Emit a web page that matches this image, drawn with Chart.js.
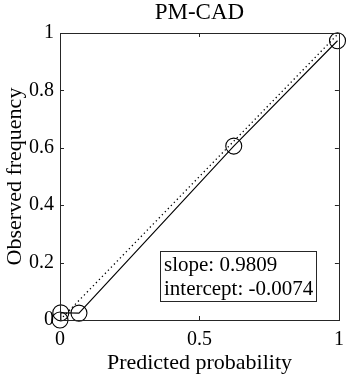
<!DOCTYPE html>
<html>
<head>
<meta charset="utf-8">
<script src="https://cdn.jsdelivr.net/npm/chart.js@4.4.1/dist/chart.umd.min.js"></script>
<style>
  html, body { margin: 0; padding: 0; background: #fff; }
  #wrap { width: 348px; height: 380px; }
</style>
</head>
<body>
<div id="wrap"><canvas id="calib" width="348" height="380"></canvas></div>
<script>
// calibration bins
const predicted = [0, 0.003, 0.068, 0.623, 0.995];
const observed = [0, 0.025, 0.024, 0.606, 0.973];
// ideal line
const idealX = [0, 1];
const idealY = [0, 1];
const xTicks = [0, 0.5, 1];
const yTicks = [0, 0.2, 0.4, 0.6, 0.8, 1];
const fitText = ["slope: 0.9809", "intercept: -0.0074"];
const titleText = "PM-CAD";

const serif = "'Liberation Serif', 'Times New Roman', serif";
const ink = "#262626";

// title over the axes, box around them, ticks pointing inwards, fit summary
const boxPlugin = {
    id: "matlabBox",
    afterDraw(chart) {
        const ctx = chart.ctx;
        const a = chart.chartArea;
        const xs = chart.scales.x, ys = chart.scales.y;
        const t = 4;
        ctx.save();

        ctx.fillStyle = "#000";
        ctx.font = "23px " + serif;
        ctx.textAlign = "center";
        ctx.textBaseline = "middle";
        ctx.fillText(titleText, (a.left + a.right) / 2, 13);

        ctx.strokeStyle = ink;
        ctx.lineWidth = 1;
        ctx.strokeRect(Math.round(a.left) + 0.5, Math.round(a.top) + 0.5,
            Math.round(a.right - a.left), Math.round(a.bottom - a.top));
        ctx.beginPath();
        xTicks.forEach(v => {
            const px = Math.round(xs.getPixelForValue(v)) + 0.5;
            ctx.moveTo(px, a.bottom); ctx.lineTo(px, a.bottom - t);
            ctx.moveTo(px, a.top); ctx.lineTo(px, a.top + t);
        });
        yTicks.forEach(v => {
            const py = Math.round(ys.getPixelForValue(v)) + 0.5;
            ctx.moveTo(a.left, py); ctx.lineTo(a.left + t, py);
            ctx.moveTo(a.right, py); ctx.lineTo(a.right - t, py);
        });
        ctx.stroke();

        // fit summary box
        const bw = 156, bh = 50;
        const bx = Math.round(a.right - 23 - bw), by = Math.round(a.bottom - 19 - bh);
        ctx.fillStyle = "#fff";
        ctx.fillRect(bx, by, bw, bh);
        ctx.strokeRect(bx + 0.5, by + 0.5, bw, bh);
        ctx.fillStyle = "#000";
        ctx.font = "21px " + serif;
        ctx.textAlign = "left";
        ctx.textBaseline = "alphabetic";
        ctx.fillText(fitText[0], bx + 4, by + 20);
        ctx.fillText(fitText[1], bx + 4, by + 44);
        ctx.restore();
    }
};

new Chart(document.getElementById("calib"), {
    type: "scatter",
    data: {
        datasets: [
            {
                data: predicted.map((x, i) => ({ x: x, y: observed[i] })),
                showLine: true,
                borderColor: "#000",
                borderWidth: 1.1,
                pointRadius: 8,
                pointBorderWidth: 1.1,
                pointBackgroundColor: "rgba(0,0,0,0)",
                pointBorderColor: "#000",
                clip: false
            },
            {
                data: idealX.map((x, i) => ({ x: x, y: idealY[i] })),
                showLine: true,
                borderColor: "#000",
                borderWidth: 1.3,
                borderDash: [1.3, 3],
                pointRadius: 0
            }
        ]
    },
    options: {
        responsive: false,
        animation: false,
        layout: { padding: { left: 0, right: 0, top: 33, bottom: 0 } },
        plugins: {
            legend: { display: false },
            tooltip: { enabled: false },
            title: { display: false }
        },
        scales: {
            x: {
                type: "linear",
                min: 0,
                max: 1,
                afterFit: s => { s.height = 60; s.paddingRight = 6; },
                afterBuildTicks: s => { s.ticks = xTicks.map(v => ({ value: v })); },
                grid: { display: false, drawTicks: false },
                border: { display: false },
                ticks: {
                    color: "#000", padding: 8, font: { family: serif, size: 20 },
                    callback: v => String(v)
                },
                title: {
                    display: true,
                    text: "Predicted probability",
                    color: "#000",
                    font: { family: serif, size: 22 },
                    padding: { top: 4, bottom: 4 }
                }
            },
            y: {
                type: "linear",
                min: 0,
                max: 1,
                afterFit: s => { s.width = 60; },
                afterBuildTicks: s => { s.ticks = yTicks.map(v => ({ value: v })); },
                grid: { display: false, drawTicks: false },
                border: { display: false },
                ticks: {
                    color: "#000", padding: 6, font: { family: serif, size: 20 },
                    callback: v => String(v)
                },
                title: {
                    display: true,
                    text: "Observed frequency",
                    color: "#000",
                    font: { family: serif, size: 22 },
                    padding: { top: 2, bottom: 2 }
                }
            }
        }
    },
    plugins: [boxPlugin]
});
</script>
</body>
</html>
